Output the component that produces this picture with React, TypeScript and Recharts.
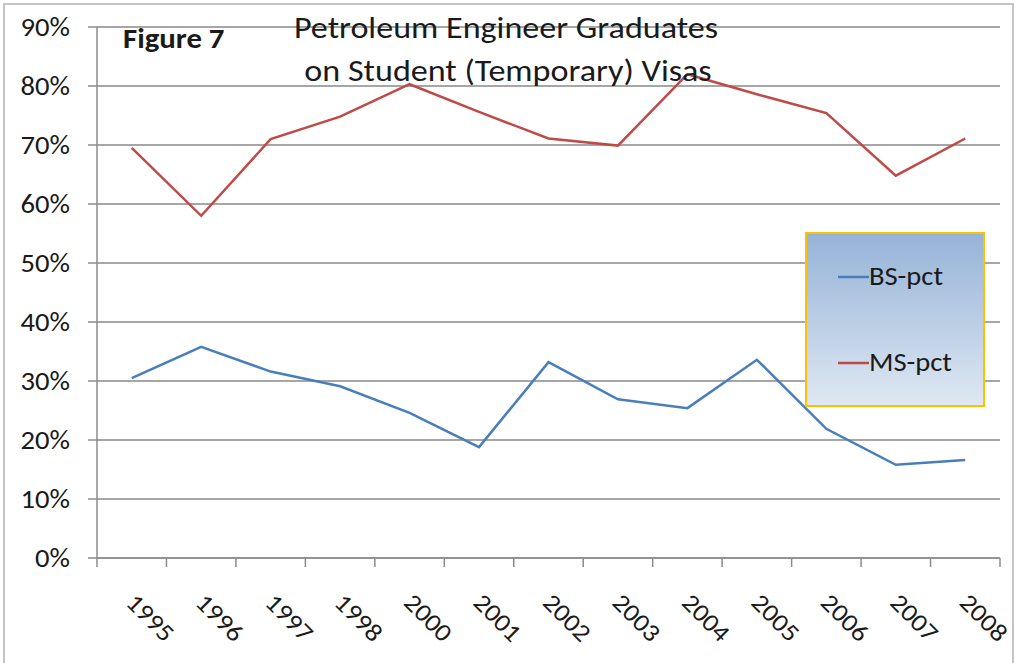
import React from "react";
import { LineChart, Line, XAxis, YAxis, CartesianGrid } from "recharts";

const years = ["1995", "1996", "1997", "1998", "2000", "2001", "2002", "2003", "2004", "2005", "2006", "2007", "2008"];
const bsPct = [30.5, 35.8, 31.6, 29.1, 24.6, 18.8, 33.2, 26.9, 25.4, 33.6, 21.9, 15.8, 16.6];
const msPct = [69.5, 58.0, 71.0, 74.8, 80.3, 75.6, 71.1, 69.9, 82.0, 78.6, 75.4, 64.8, 71.1];
const yTicks = [0, 10, 20, 30, 40, 50, 60, 70, 80, 90];
const seriesNames = ["BS-pct", "MS-pct"];

const W = 1017;
const H = 663;
const PLOT_LEFT = 97;
const PLOT_RIGHT = 1000;
const PLOT_TOP = 27;
const PLOT_BOTTOM = 558;
const BAND = (PLOT_RIGHT - PLOT_LEFT) / years.length;
const FONT = "Carlito, 'Liberation Sans Narrow', 'DejaVu Sans Condensed', 'Open Sans', sans-serif";
const STRETCH = 1.1; // the source image is a bit wider than tall

const BLUE = "#4a7ebb";
const RED = "#be4b48";
const AXIS = "#8c8c8c";
const TEXT = "#1a1a1a";

const data = years.map((y, i) => ({ year: y, [seriesNames[0]]: bsPct[i], [seriesNames[1]]: msPct[i] }));

const XTick = (props: any) => {
  const { x, payload, index } = props;
  const left = x - BAND / 2;
  const tx = x - 7;
  const ty = PLOT_BOTTOM + 46;
  return (
    <g>
      <line x1={left} x2={left} y1={PLOT_BOTTOM} y2={PLOT_BOTTOM + 9} stroke={AXIS} strokeWidth={1.5} />
      {index === years.length - 1 && (
        <line x1={x + BAND / 2} x2={x + BAND / 2} y1={PLOT_BOTTOM} y2={PLOT_BOTTOM + 9} stroke={AXIS} strokeWidth={1.5} />
      )}
      <text
        transform={`translate(${tx} ${ty}) rotate(45) scale(${STRETCH} 1)`}
        textAnchor="start"
        fontSize={25}
        fill={TEXT}
        fontFamily={FONT}
      >
        {payload.value}
      </text>
    </g>
  );
};

const YTick = (props: any) => {
  const { y, payload } = props;
  return (
    <g>
      <line x1={PLOT_LEFT - 9} x2={PLOT_LEFT} y1={y} y2={y} stroke={AXIS} strokeWidth={1.5} />
      <text
        transform={`translate(70 ${y}) scale(${STRETCH} 1)`}
        textAnchor="end"
        dy="0.34em"
        fontSize={26}
        fill={TEXT}
        fontFamily={FONT}
      >
        {`${payload.value}%`}
      </text>
    </g>
  );
};

const Overlay = () => (
  <svg width={W} height={H} style={{ position: "absolute", left: 0, top: 0, pointerEvents: "none" }}>
    <defs>
      <linearGradient id="lg" x1="0" y1="0" x2="0" y2="1">
        <stop offset="0%" stopColor="#95b3d7" />
        <stop offset="100%" stopColor="#dfe8f3" />
      </linearGradient>
    </defs>
    <rect x={4} y={4} width={1009} height={664} fill="none" stroke="#c4c4c4" strokeWidth={2} />
    <g fontFamily={FONT} fill={TEXT}>
      <text transform={`translate(506 38) scale(${STRETCH} 1)`} textAnchor="middle" fontSize={31}>
        Petroleum Engineer Graduates
      </text>
      <text transform={`translate(508 81) scale(${STRETCH} 1)`} textAnchor="middle" fontSize={31}>
        on Student (Temporary) Visas
      </text>
      <text transform={`translate(123 48) scale(${STRETCH} 1)`} fontSize={28} fontWeight="bold">
        Figure 7
      </text>
    </g>
    <rect x={806} y={233} width={178} height={173} fill="url(#lg)" stroke="#ffc000" strokeWidth={2} />
    {seriesNames.map((name, i) => {
      const ly = i === 0 ? 277 : 363;
      return (
        <g key={name}>
          <line x1={838} x2={869} y1={ly} y2={ly} stroke={i === 0 ? BLUE : RED} strokeWidth={2.5} />
          <text
            transform={`translate(869 ${ly + 8}) scale(${STRETCH} 1)`}
            fontSize={26}
            fill={TEXT}
            fontFamily={FONT}
          >
            {name}
          </text>
        </g>
      );
    })}
  </svg>
);

export default function App() {
  return (
    <div style={{ position: "absolute", left: 0, top: 0, width: W, height: H, background: "#fff" }}>
      <LineChart width={W} height={H} data={data} margin={{ top: PLOT_TOP, right: W - PLOT_RIGHT, left: 0, bottom: 0 }}>
        <CartesianGrid vertical={false} stroke="#a6a6a6" strokeWidth={2} />
        <XAxis
          dataKey="year"
          scale="band"
          height={H - PLOT_BOTTOM}
          axisLine={{ stroke: AXIS, strokeWidth: 1.5 }}
          tickLine={false}
          tick={<XTick />}
          interval={0}
        />
        <YAxis
          width={PLOT_LEFT}
          domain={[0, 90]}
          ticks={yTicks}
          axisLine={{ stroke: AXIS, strokeWidth: 1.5 }}
          tickLine={false}
          tick={<YTick />}
          interval={0}
        />
        <Line type="linear" dataKey={seriesNames[0]} stroke={BLUE} strokeWidth={2.5} dot={false} isAnimationActive={false} />
        <Line type="linear" dataKey={seriesNames[1]} stroke={RED} strokeWidth={2.5} dot={false} isAnimationActive={false} />
      </LineChart>
      <Overlay />
    </div>
  );
}
